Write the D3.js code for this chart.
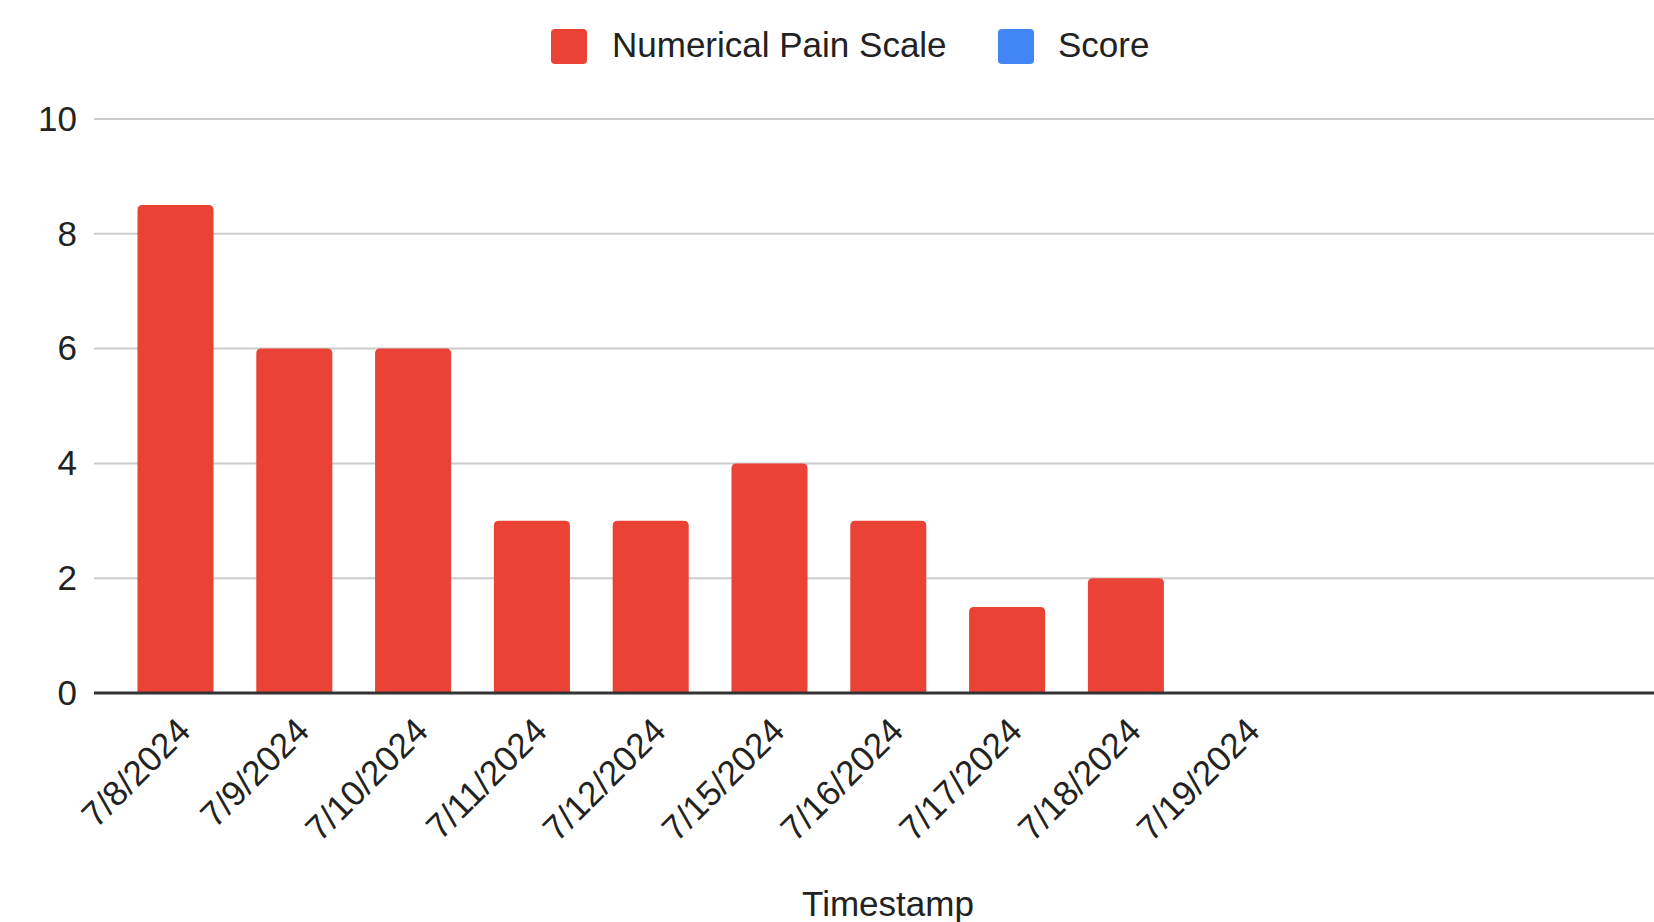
<!DOCTYPE html>
<html>
<head>
<meta charset="utf-8">
<script src="https://cdn.jsdelivr.net/npm/d3@7"></script>
<style>
  html, body { margin: 0; padding: 0; background: #fff; }
  svg { display: block; }
  text { font-family: Arial, "Liberation Sans", Helvetica, sans-serif; fill: #222; }
</style>
</head>
<body>
<svg id="chart" width="1654" height="922"></svg>
<script>
// Daily pain readings by timestamp
const dates = ["7/8/2024", "7/9/2024", "7/10/2024", "7/11/2024", "7/12/2024",
               "7/15/2024", "7/16/2024", "7/17/2024", "7/18/2024", "7/19/2024"];
const painScale = [8.5, 6, 6, 3, 3, 4, 3, 1.5, 2, null];
const yTicks = [0, 2, 4, 6, 8, 10];
const seriesNames = ["Numerical Pain Scale", "Score"];
const seriesColors = ["#EA4335", "#4285F4"];

const W = 1654, H = 922;
const plotLeft = 94, plotRight = 1654;
const baseY = 693, topY = 119;
const step = 118.8;
const bandStart = 175.5 - step / 2;

const svg = d3.select("#chart");

const x = d3.scaleBand()
  .domain(dates)
  .range([bandStart, bandStart + step * dates.length])
  .paddingInner(0.36)
  .paddingOuter(0.18);

const y = d3.scaleLinear().domain([0, 10]).range([baseY, topY]);

// Horizontal gridlines
svg.append("g")
  .selectAll("line")
  .data(yTicks.filter(d => d !== 0))
  .join("line")
  .attr("x1", plotLeft).attr("x2", plotRight)
  .attr("y1", d => y(d)).attr("y2", d => y(d))
  .attr("stroke", "#cccccc").attr("stroke-width", 2);

// Y axis labels
const yAxis = svg.append("g")
  .attr("transform", `translate(${plotLeft - 17},0)`)
  .call(d3.axisLeft(y).tickValues(yTicks).tickSize(0).tickPadding(0).tickFormat(d3.format("d")));
yAxis.select(".domain").remove();
yAxis.selectAll("text")
  .attr("font-size", 35)
  .attr("fill", "#222")
  .style("font-family", "Arial, 'Liberation Sans', sans-serif");

// Bars with slightly rounded top corners
const r = 5;
function barPath(x0, w, yTop, yBot) {
  const rr = Math.min(r, w / 2, (yBot - yTop) / 2);
  return `M${x0},${yBot}V${yTop + rr}Q${x0},${yTop} ${x0 + rr},${yTop}` +
         `H${x0 + w - rr}Q${x0 + w},${yTop} ${x0 + w},${yTop + rr}V${yBot}Z`;
}
svg.append("g")
  .selectAll("path")
  .data(dates.map((d, i) => ({ date: d, value: painScale[i] })).filter(d => d.value != null && d.value > 0))
  .join("path")
  .attr("d", d => barPath(x(d.date), x.bandwidth(), y(d.value), y(0)))
  .attr("fill", seriesColors[0]);

// Baseline
svg.append("line")
  .attr("x1", plotLeft).attr("x2", plotRight)
  .attr("y1", y(0)).attr("y2", y(0))
  .attr("stroke", "#333333").attr("stroke-width", 3);

// X axis labels, rotated
const xAxis = svg.append("g")
  .attr("transform", `translate(0,${baseY})`)
  .call(d3.axisBottom(x).tickSize(0).tickPadding(0));
xAxis.select(".domain").remove();
xAxis.selectAll("text")
  .attr("font-size", 35)
  .attr("fill", "#222")
  .style("font-family", "Arial, 'Liberation Sans', sans-serif")
  .attr("text-anchor", "end")
  .attr("dy", null)
  .attr("y", 0)
  .attr("transform", "translate(17,40) rotate(-45)");

// X axis title
svg.append("text")
  .attr("x", 888).attr("y", 916)
  .attr("text-anchor", "middle")
  .attr("font-size", 35)
  .text("Timestamp");

// Legend
const legend = svg.append("g");
const legendItems = [
  { name: seriesNames[0], color: seriesColors[0], sx: 551, tx: 612 },
  { name: seriesNames[1], color: seriesColors[1], sx: 998, tx: 1058 }
];
legendItems.forEach(it => {
  legend.append("rect")
    .attr("x", it.sx).attr("y", 29).attr("width", 36).attr("height", 35)
    .attr("rx", 4).attr("fill", it.color);
  legend.append("text")
    .attr("x", it.tx).attr("y", 44)
    .attr("dominant-baseline", "central")
    .attr("font-size", 35)
    .text(it.name);
});
</script>
</body>
</html>
